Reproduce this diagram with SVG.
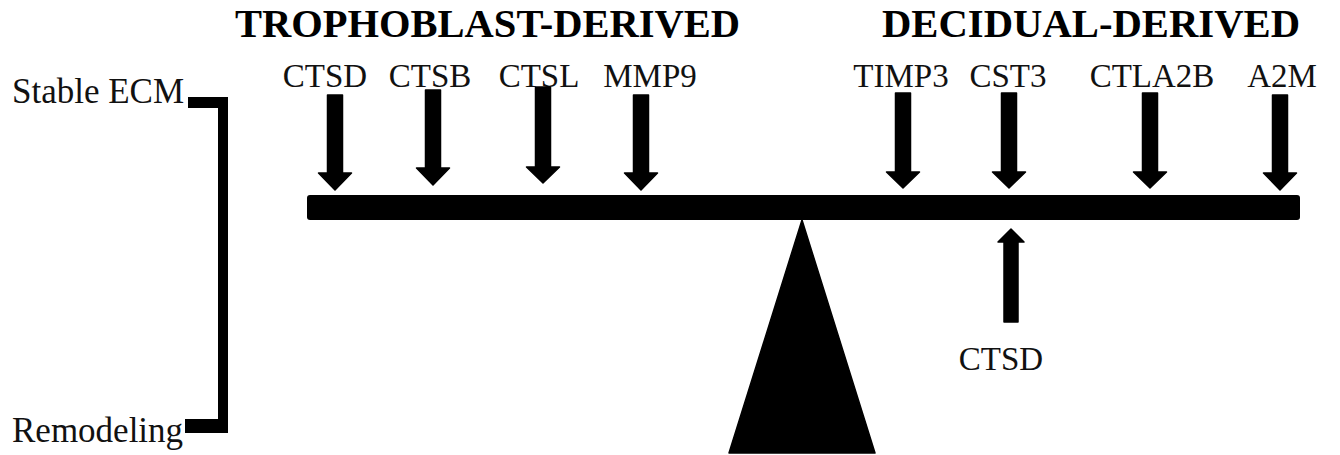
<svg xmlns="http://www.w3.org/2000/svg" width="1340" height="455" viewBox="0 0 1340 455">
<style>
.lbl{font-family:"Liberation Serif","Times New Roman",serif;font-size:33px;fill:#111;}
.side{font-family:"Liberation Serif","Times New Roman",serif;font-size:35px;fill:#111;}
.hdr{font-family:"Liberation Serif","Times New Roman",serif;font-size:40px;font-weight:bold;fill:#000;}
.arr{fill:#000;stroke:#000;stroke-width:1.5;stroke-linejoin:round;}
.solid{fill:#000;}
</style>
<rect width="1340" height="455" fill="#fff"/>
<g id="headers">
<text class="hdr" x="235" y="37" textLength="505" lengthAdjust="spacingAndGlyphs">TROPHOBLAST-DERIVED</text>
<text class="hdr" x="882" y="37" textLength="418" lengthAdjust="spacingAndGlyphs">DECIDUAL-DERIVED</text>
</g>
<g id="scale">
<text class="side" x="12" y="103">Stable ECM</text>
<text class="side" x="12" y="442">Remodeling</text>
<path class="solid" d="M188,97 H228 V433 H185 V419 H218 V108 H188 Z"/>
</g>
<g id="beam">
<rect class="solid" x="307" y="195" width="993" height="25" rx="3"/>
</g>
<g id="fulcrum">
<polygon class="arr" points="802,220 875,453 729,453"/>
</g>
<g id="labels">
<text class="lbl" x="325" y="87" text-anchor="middle">CTSD</text>
<text class="lbl" x="430" y="87" text-anchor="middle">CTSB</text>
<text class="lbl" x="539" y="87" text-anchor="middle">CTSL</text>
<text class="lbl" x="650" y="87" text-anchor="middle">MMP9</text>
<text class="lbl" x="901" y="87" text-anchor="middle">TIMP3</text>
<text class="lbl" x="1008" y="87" text-anchor="middle">CST3</text>
<text class="lbl" x="1152" y="87" text-anchor="middle">CTLA2B</text>
<text class="lbl" x="1282" y="87" text-anchor="middle">A2M</text>
<text class="lbl" x="1001" y="370" text-anchor="middle">CTSD</text>
</g>
<g id="connectors">
<polygon class="arr" points="327.5,95 342.5,95 342.5,173 351.5,173 335,190 318.5,173 327.5,173"/>
<polygon class="arr" points="425.5,90 440.5,90 440.5,168 449.5,168 433,185 416.5,168 425.5,168"/>
<polygon class="arr" points="535.5,87 550.5,87 550.5,167 559.5,167 543,183 526.5,167 535.5,167"/>
<polygon class="arr" points="633.5,95 648.5,95 648.5,173 657.5,173 641,190 624.5,173 633.5,173"/>
<polygon class="arr" points="895.5,93 910.5,93 910.5,172 919.5,172 903,188 886.5,172 895.5,172"/>
<polygon class="arr" points="1001.5,93 1016.5,93 1016.5,172 1025.5,172 1009,188 992.5,172 1001.5,172"/>
<polygon class="arr" points="1142.5,93 1157.5,93 1157.5,172 1166.5,172 1150,188 1133.5,172 1142.5,172"/>
<polygon class="arr" points="1272.5,95 1287.5,95 1287.5,173 1296.5,173 1280,190 1263.5,173 1272.5,173"/>
<polygon class="arr" points="1011,229 1024,242 1018,242 1018,322 1004,322 1004,242 998,242"/>
</g>
</svg>
